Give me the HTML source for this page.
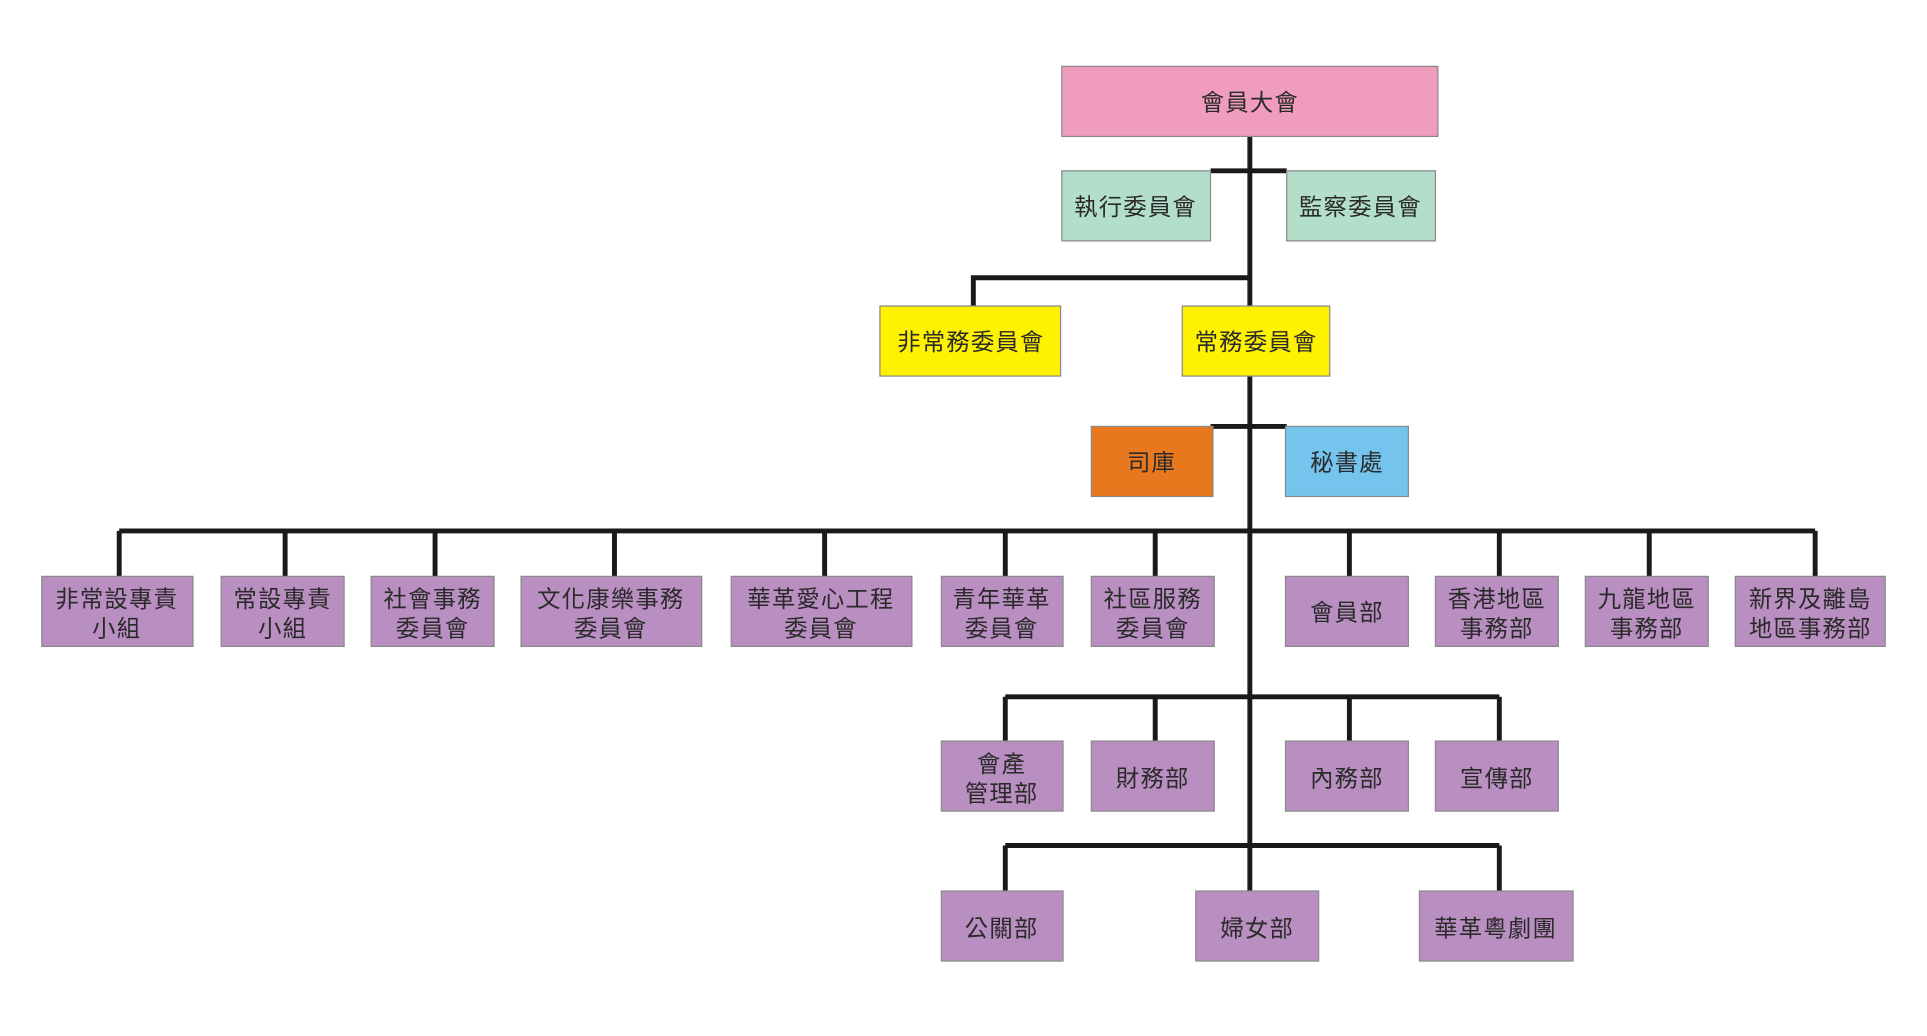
<!DOCTYPE html>
<html><head><meta charset="utf-8"><style>
html,body{margin:0;padding:0;background:#fff;width:1927px;height:1036px;overflow:hidden}
text{font-family:"Liberation Sans","Noto Sans CJK TC",sans-serif;font-size:19px;fill:#2a2a2a;text-anchor:middle;letter-spacing:1px}
</style></head><body>
<svg width="1927" height="1036" viewBox="0 0 1568 843" xmlns="http://www.w3.org/2000/svg">
<g stroke="#1a1a1a" stroke-width="4" fill="none">
<path d="M1017 111V725"/>
<path d="M985 139H1047"/>
<path d="M792 226H1017M792 224V249"/>
<path d="M985 347H1047"/>
<path d="M97 432H1477"/>
<path d="M97 432V469M232 432V469M354 432V469M500 432V469M671 432V469M818 432V469M940 432V469M1098 432V469M1220 432V469M1342 432V469M1477 432V469"/>
<path d="M818 567H1220M818 567V603M940 567V603M1098 567V603M1220 567V603"/>
<path d="M818 688H1220M818 688V725M1220 688V725"/>
</g>
<g stroke="#8a8a8a" stroke-width="1">
<rect x="864" y="54" width="306" height="57" fill="#f09cbd"/>
<rect x="864" y="139" width="121" height="57" fill="#b3dfca"/>
<rect x="1047" y="139" width="121" height="57" fill="#b3dfca"/>
<rect x="716" y="249" width="147" height="57" fill="#fff200"/>
<rect x="962" y="249" width="120" height="57" fill="#fff200"/>
<rect x="888" y="347" width="99" height="57" fill="#e8781e"/>
<rect x="1046" y="347" width="100" height="57" fill="#74c4ee"/>
<g fill="#b98ec0">
<rect x="34" y="469" width="123" height="57"/>
<rect x="180" y="469" width="100" height="57"/>
<rect x="302" y="469" width="100" height="57"/>
<rect x="424" y="469" width="147" height="57"/>
<rect x="595" y="469" width="147" height="57"/>
<rect x="766" y="469" width="99" height="57"/>
<rect x="888" y="469" width="100" height="57"/>
<rect x="1046" y="469" width="100" height="57"/>
<rect x="1168" y="469" width="100" height="57"/>
<rect x="1290" y="469" width="100" height="57"/>
<rect x="1412" y="469" width="122" height="57"/>
<rect x="766" y="603" width="99" height="57"/>
<rect x="888" y="603" width="100" height="57"/>
<rect x="1046" y="603" width="100" height="57"/>
<rect x="1168" y="603" width="100" height="57"/>
<rect x="766" y="725" width="99" height="57"/>
<rect x="973" y="725" width="100" height="57"/>
<rect x="1155" y="725" width="125" height="57"/>
</g></g>
<text x="1017" y="90">會員大會</text>
<text x="924" y="175">執行委員會</text>
<text x="1107" y="175">監察委員會</text>
<text x="790" y="285">非常務委員會</text>
<text x="1022" y="285">常務委員會</text>
<text x="937" y="383">司庫</text>
<text x="1096" y="383">秘書處</text>
<text x="95" y="494">非常設專責</text><text x="95" y="518">小組</text>
<text x="230" y="494">常設專責</text><text x="230" y="518">小組</text>
<text x="352" y="494">社會事務</text><text x="352" y="518">委員會</text>
<text x="497" y="494">文化康樂事務</text><text x="497" y="518">委員會</text>
<text x="668" y="494">華革愛心工程</text><text x="668" y="518">委員會</text>
<text x="815" y="494">青年華革</text><text x="815" y="518">委員會</text>
<text x="938" y="494">社區服務</text><text x="938" y="518">委員會</text>
<text x="1096" y="505">會員部</text>
<text x="1218" y="494">香港地區</text><text x="1218" y="518">事務部</text>
<text x="1340" y="494">九龍地區</text><text x="1340" y="518">事務部</text>
<text x="1473" y="494">新界及離島</text><text x="1473" y="518">地區事務部</text>
<text x="815" y="628">會產</text><text x="815" y="652">管理部</text>
<text x="938" y="640">財務部</text>
<text x="1096" y="640">內務部</text>
<text x="1218" y="640">宣傳部</text>
<text x="815" y="762">公關部</text>
<text x="1023" y="762">婦女部</text>
<text x="1217" y="762">華革粵劇團</text>
</svg>
</body></html>
